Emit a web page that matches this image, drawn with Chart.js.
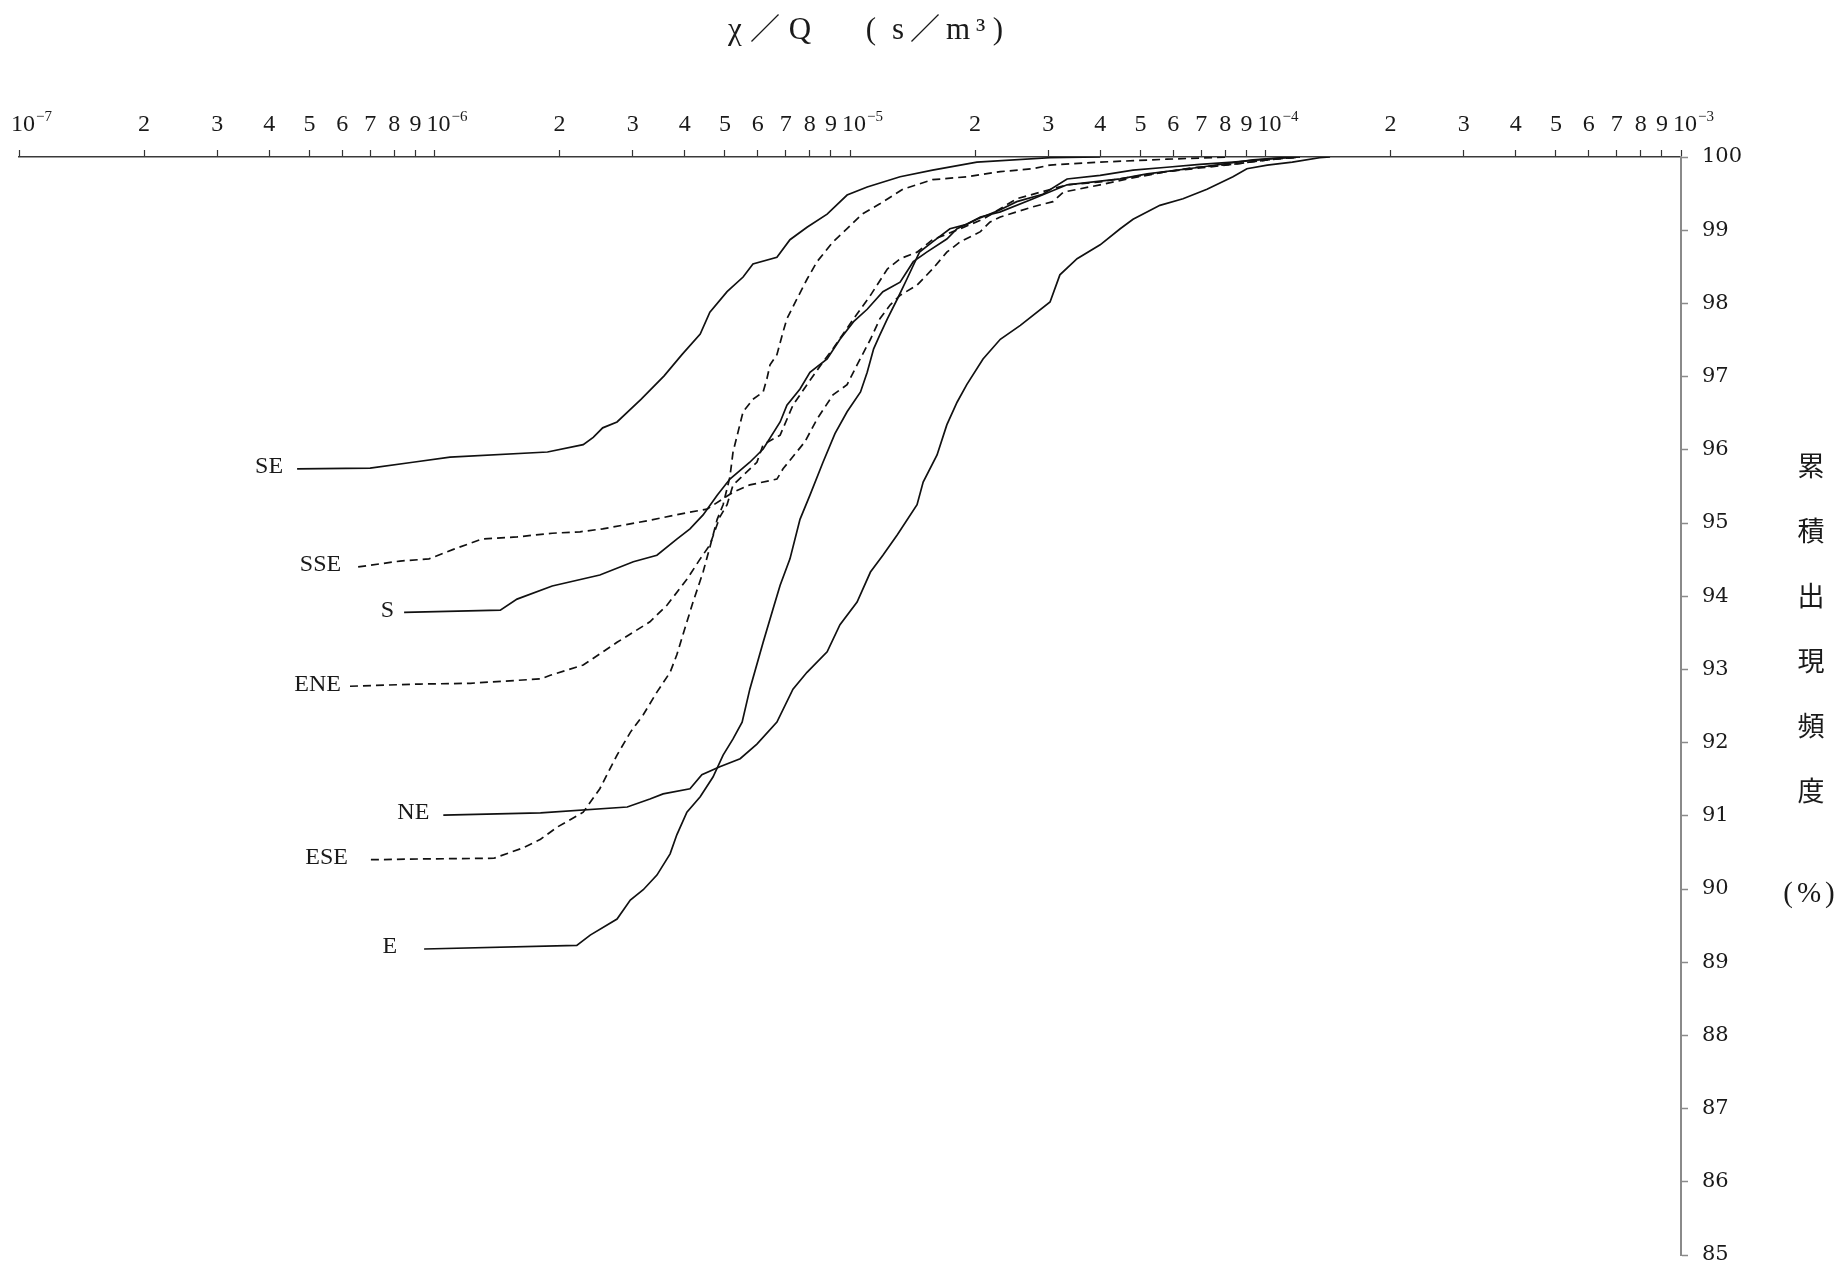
<!DOCTYPE html>
<html>
<head>
<meta charset="utf-8">
<script src="https://cdn.jsdelivr.net/npm/chart.js@4.4.1/dist/chart.umd.min.js"></script>
<style>
html,body{margin:0;padding:0;background:#fff;}
#wrap{position:relative;width:1843px;height:1267px;overflow:hidden;background:#fff;}
#c{position:absolute;left:0;top:0;}
#title{position:absolute;left:720px;top:11px;height:34px;font-family:"Liberation Serif",serif;font-size:31px;line-height:31px;color:#1a1a1a;white-space:nowrap;}
#title span{display:inline-block;text-align:center;}
#title .cj{font-family:"Noto Sans CJK JP",sans-serif;font-size:30px;}
#ylab{position:absolute;left:1780px;top:432px;width:62px;color:#1a1a1a;text-align:center;}
#ylab div{height:65px;line-height:65px;font-family:"Noto Sans CJK JP",sans-serif;font-size:27px;}
#ylab div.pc{font-family:"Liberation Serif",serif;font-size:29px;margin-top:38px;letter-spacing:4px;}
</style>
</head>
<body>
<div id="wrap">
<canvas id="c" width="1843" height="1267"></canvas>
<div id="title"><span style="width:30px">χ</span><span class="cj" style="width:30px">／</span><span style="width:40px">Q</span><span style="width:36px"> </span><span style="width:30px">(</span><span style="width:24px">s</span><span class="cj" style="width:30px">／</span><span style="width:36px">m</span><span style="width:8px">³</span><span style="width:28px">)</span></div>
<div id="ylab"><div>累</div><div>積</div><div>出</div><div>現</div><div>頻</div><div>度</div><div class="pc">(%)</div></div>
</div>
<script>
// ---- axis ticks ----
const xTickValues = [1e-7,2e-7,3e-7,4e-7,5e-7,6e-7,7e-7,8e-7,9e-7,
  1e-6,2e-6,3e-6,4e-6,5e-6,6e-6,7e-6,8e-6,9e-6,
  1e-5,2e-5,3e-5,4e-5,5e-5,6e-5,7e-5,8e-5,9e-5,
  1e-4,2e-4,3e-4,4e-4,5e-4,6e-4,7e-4,8e-4,9e-4,1e-3];
const xTickLabels = ["10^−7","2","3","4","5","6","7","8","9",
  "10^−6","2","3","4","5","6","7","8","9",
  "10^−5","2","3","4","5","6","7","8","9",
  "10^−4","2","3","4","5","6","7","8","9","10^−3"];
const yTickValues = [85,86,87,88,89,90,91,92,93,94,95,96,97,98,99,100];
const yTickLabels = ["85","86","87","88","89","90","91","92","93","94","95","96","97","98","99","100"];

// ---- series (χ/Q in s/m³, cumulative frequency in %) ----
const seriesNames = ["SE","SSE","S","ENE","NE","ESE","E"];

const SE_x = [4.67e-7,7.0e-7,8.87e-7,1.09e-6,1.87e-6,2.28e-6,2.41e-6,2.54e-6,2.75e-6,3.14e-6,3.57e-6,3.94e-6,4.36e-6,4.60e-6,5.06e-6,5.53e-6,5.84e-6,6.67e-6,7.17e-6,7.88e-6,8.81e-6,9.84e-6,1.10e-5,1.32e-5,1.58e-5,2.02e-5,3.03e-5,4.0e-5];
const SE_y = [95.74,95.75,95.83,95.90,95.97,96.07,96.17,96.30,96.38,96.69,97.01,97.30,97.58,97.88,98.16,98.36,98.54,98.63,98.87,99.04,99.22,99.48,99.59,99.73,99.82,99.93,99.99,100];

const SSE_x = [6.55e-7,8.26e-7,9.70e-7,1.11e-6,1.30e-6,1.58e-6,1.92e-6,2.24e-6,2.54e-6,3.25e-6,4.05e-6,4.53e-6,5.23e-6,5.74e-6,6.67e-6,6.90e-6,7.79e-6,8.33e-6,9.10e-6,9.84e-6,1.04e-5,1.12e-5,1.18e-5,1.25e-5,1.32e-5,1.45e-5,1.58e-5,1.71e-5,1.84e-5,2.06e-5,2.17e-5,2.30e-5,2.76e-5,3.08e-5,3.26e-5,4.0e-5,4.64e-5,5.79e-5,6.84e-5,8.35e-5,1.01e-4,1.21e-4];
const SSE_y = [94.40,94.48,94.51,94.64,94.78,94.81,94.86,94.88,94.92,95.03,95.14,95.19,95.42,95.52,95.60,95.74,96.11,96.42,96.75,96.89,97.16,97.51,97.79,97.98,98.11,98.25,98.47,98.70,98.84,98.98,99.11,99.18,99.32,99.39,99.52,99.62,99.70,99.80,99.86,99.90,99.96,100];

const S_x = [8.45e-7,1.44e-6,1.58e-6,1.92e-6,2.50e-6,3.01e-6,3.43e-6,3.83e-6,4.12e-6,4.43e-6,4.79e-6,5.14e-6,5.74e-6,6.18e-6,6.79e-6,7.05e-6,7.58e-6,8.01e-6,8.81e-6,9.46e-6,1.02e-5,1.10e-5,1.20e-5,1.32e-5,1.42e-5,1.53e-5,1.71e-5,1.81e-5,2.02e-5,2.30e-5,2.52e-5,2.91e-5,3.33e-5,4.0e-5,4.80e-5,5.79e-5,6.95e-5,8.35e-5,1.01e-4,1.21e-4];
const S_y = [93.78,93.81,93.96,94.14,94.29,94.47,94.56,94.78,94.92,95.11,95.38,95.60,95.83,96.01,96.38,96.61,96.83,97.06,97.24,97.51,97.75,97.92,98.16,98.29,98.57,98.70,98.88,99.02,99.15,99.28,99.39,99.49,99.70,99.75,99.82,99.86,99.90,99.93,99.97,100];

const ENE_x = [6.26e-7,9.23e-7,1.22e-6,1.48e-6,1.80e-6,1.90e-6,2.28e-6,2.75e-6,3.30e-6,3.63e-6,4.05e-6,4.36e-6,4.60e-6,4.86e-6,5.06e-6,5.23e-6,5.97e-6,6.18e-6,6.79e-6,7.29e-6,7.88e-6,8.61e-6,9.10e-6,1.02e-5,1.12e-5,1.23e-5,1.32e-5,1.45e-5,1.58e-5,1.77e-5,2.09e-5,2.52e-5,3.33e-5,4.0e-5,4.80e-5,5.79e-5,6.95e-5,8.35e-5,1.01e-4,1.21e-4];
const ENE_y = [92.77,92.80,92.81,92.84,92.87,92.92,93.06,93.37,93.65,93.88,94.23,94.51,94.70,95.08,95.25,95.52,95.83,96.07,96.20,96.61,96.89,97.20,97.38,97.79,98.11,98.47,98.61,98.70,98.87,98.98,99.15,99.43,99.62,99.66,99.73,99.80,99.85,99.90,99.96,100];

const NE_x = [1.05e-6,1.80e-6,2.91e-6,3.30e-6,3.55e-6,4.12e-6,4.40e-6,4.86e-6,5.44e-6,5.97e-6,6.67e-6,7.29e-6,7.88e-6,8.81e-6,9.46e-6,1.04e-5,1.12e-5,1.20e-5,1.30e-5,1.45e-5,1.50e-5,1.62e-5,1.71e-5,1.81e-5,1.91e-5,2.09e-5,2.30e-5,2.57e-5,3.03e-5,3.20e-5,3.52e-5,4.0e-5,4.47e-5,4.80e-5,5.57e-5,6.33e-5,7.23e-5,8.35e-5,9.02e-5,1.01e-4,1.16e-4,1.35e-4,1.43e-4];
const NE_y = [91.01,91.04,91.12,91.23,91.30,91.37,91.56,91.67,91.78,91.98,92.28,92.73,92.96,93.24,93.61,93.92,94.33,94.56,94.84,95.25,95.56,95.93,96.34,96.65,96.89,97.24,97.51,97.70,98.02,98.39,98.61,98.80,99.02,99.15,99.34,99.43,99.56,99.73,99.84,99.89,99.93,99.99,100];

const ESE_x = [7.03e-7,9.23e-7,1.39e-6,1.63e-6,1.80e-6,1.98e-6,2.28e-6,2.50e-6,2.75e-6,2.96e-6,3.18e-6,3.43e-6,3.69e-6,3.83e-6,3.96e-6,4.19e-6,4.43e-6,4.60e-6,4.79e-6,4.95e-6,5.14e-6,5.23e-6,5.53e-6,5.84e-6,6.18e-6,6.31e-6,6.42e-6,6.67e-6,6.90e-6,7.05e-6,7.45e-6,7.88e-6,8.33e-6,9.10e-6,9.84e-6,1.07e-5,1.18e-5,1.34e-5,1.58e-5,1.91e-5,2.30e-5,2.76e-5,3.03e-5,4.0e-5,5.79e-5,8.2e-5];
const ESE_y = [90.40,90.41,90.42,90.56,90.68,90.85,91.05,91.37,91.83,92.14,92.38,92.69,92.96,93.20,93.47,93.92,94.33,94.67,95.05,95.25,95.63,95.97,96.52,96.69,96.79,96.97,97.16,97.30,97.61,97.79,98.06,98.33,98.57,98.84,99.02,99.22,99.36,99.56,99.69,99.73,99.80,99.84,99.89,99.93,99.97,100];

const E_x = [9.44e-7,2.20e-6,2.37e-6,2.75e-6,2.96e-6,3.18e-6,3.43e-6,3.69e-6,3.83e-6,4.05e-6,4.36e-6,4.68e-6,4.95e-6,5.23e-6,5.50e-6,5.74e-6,6.18e-6,6.53e-6,6.79e-6,7.17e-6,7.58e-6,8.01e-6,8.61e-6,9.20e-6,9.84e-6,1.06e-5,1.10e-5,1.14e-5,1.18e-5,1.23e-5,1.30e-5,1.37e-5,1.47e-5,1.58e-5,1.74e-5,1.91e-5,2.06e-5,2.30e-5,2.76e-5,3.33e-5,4.47e-5,5.19e-5,6.95e-5,9.33e-5,1.15e-4];
const E_y = [89.18,89.23,89.37,89.59,89.85,89.99,90.19,90.48,90.74,91.05,91.26,91.53,91.83,92.05,92.28,92.73,93.37,93.83,94.15,94.51,95.05,95.38,95.83,96.22,96.52,96.79,97.06,97.38,97.57,97.79,98.06,98.33,98.70,98.84,99.02,99.08,99.18,99.25,99.43,99.62,99.70,99.77,99.86,99.96,100];

// ---- styling (not data) ----
const seriesX = [SE_x, SSE_x, S_x, ENE_x, NE_x, ESE_x, E_x];
const seriesY = [SE_y, SSE_y, S_y, ENE_y, NE_y, ESE_y, E_y];
const seriesDashed = [false, true, false, true, false, true, false];
const labelGap = [14, 17, 10, 9, 14, 23, 27];

const datasets = seriesNames.map((name, i) => ({
  label: name,
  data: seriesX[i].map((x, j) => ({ x: x, y: seriesY[i][j] })),
  borderColor: '#111',
  borderWidth: 1.7,
  borderDash: seriesDashed[i] ? [8, 5] : [],
  pointRadius: 0,
  fill: false,
  tension: 0
}));

const labelPlugin = {
  id: 'extraLabels',
  afterDraw(chart) {
    const ctx = chart.ctx;
    const xs = chart.scales.x;
    ctx.save();
    ctx.fillStyle = '#1a1a1a';
    ctx.textBaseline = 'alphabetic';
    const baseY = xs.bottom - 26;
    xTickValues.forEach((v, i) => {
      const px = xs.getPixelForValue(v);
      const parts = xTickLabels[i].split('^');
      ctx.font = '24px "Liberation Serif", serif';
      if (parts.length === 2) {
        ctx.textAlign = 'center';
        const w = ctx.measureText(parts[0]).width;
        ctx.fillText(parts[0], px + 4, baseY);
        ctx.font = '15px "Liberation Serif", serif';
        ctx.textAlign = 'left';
        ctx.fillText(parts[1], px + 4 + w / 2 + 1, baseY - 10);
      } else {
        ctx.textAlign = 'center';
        ctx.fillText(parts[0], px, baseY);
      }
    });
    // series name labels at the start of each curve
    ctx.font = '24px "Liberation Serif", serif';
    ctx.textAlign = 'right';
    ctx.textBaseline = 'middle';
    chart.data.datasets.forEach((ds, i) => {
      const el = chart.getDatasetMeta(i).data[0];
      if (!el) return;
      ctx.fillText(ds.label, el.x - labelGap[i], el.y - 2);
    });
    ctx.restore();
  }
};

new Chart(document.getElementById('c'), {
  type: 'line',
  data: { datasets: datasets },
  options: {
    responsive: false,
    animation: false,
    devicePixelRatio: 1,
    layout: { padding: { left: 19, right: 0, top: 0, bottom: 12 } },
    plugins: { legend: { display: false }, tooltip: { enabled: false }, title: { display: false } },
    scales: {
      x: {
        type: 'logarithmic',
        position: 'top',
        min: 1e-7,
        max: 1e-3,
        afterBuildTicks: s => { s.ticks = xTickValues.map(v => ({ value: v })); },
        afterFit: s => { s.height = 157; s.paddingLeft = 0; s.paddingRight = 0; },
        ticks: { display: false },
        grid: { drawOnChartArea: false, drawTicks: true, tickLength: 7, tickColor: '#333', tickWidth: 1.2, color: '#333' },
        border: { display: true, color: '#3a3a3a', width: 1.5 }
      },
      y: {
        type: 'linear',
        position: 'right',
        min: 85,
        max: 100,
        afterBuildTicks: s => { s.ticks = yTickValues.map(v => ({ value: v })); },
        afterFit: s => { s.width = 162; s.paddingTop = 0; s.paddingBottom = 0; },
        ticks: {
          padding: 14,
          color: '#1a1a1a',
          font: { family: '"DejaVu Serif", serif', size: 21 },
          callback: (v, i) => yTickLabels[i]
        },
        grid: { drawOnChartArea: false, drawTicks: true, tickLength: 7, tickColor: '#8a8a8a', tickWidth: 1.5, color: '#8a8a8a' },
        border: { display: true, color: '#8a8a8a', width: 2 }
      }
    }
  },
  plugins: [labelPlugin]
});
</script>
</body>
</html>
